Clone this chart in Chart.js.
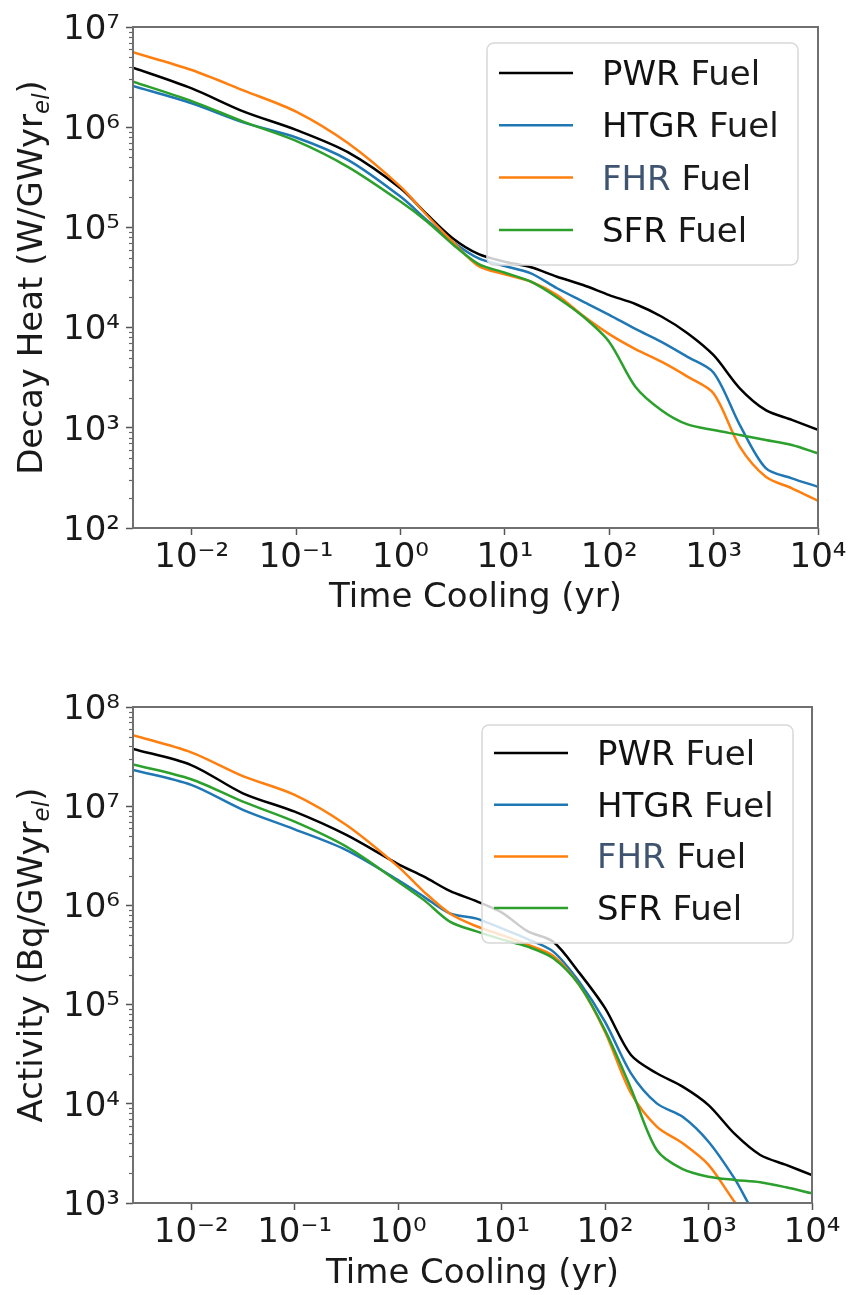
<!DOCTYPE html>
<html>
<head>
<meta charset="utf-8">
<title>Decay heat and activity of spent fuel</title>
<script src="https://cdn.jsdelivr.net/npm/chart.js"></script>
<style>
  html, body { margin: 0; padding: 0; background: #fff; }
  body { width: 851px; height: 1295px; position: relative; overflow: hidden; }
  canvas { position: absolute; left: 0; }
  #heatChart { top: 0; }
  #activityChart { top: 640px; }
</style>
</head>
<body>
<canvas id="heatChart" width="851" height="630"></canvas>
<canvas id="activityChart" width="851" height="655"></canvas>
<script>
// cooling times (yr), shared by both panels
var times = [0.00274, 0.01, 0.0316, 0.1, 0.316, 1, 1.78, 3.16, 5.62, 10, 17.8,
             31.6, 56.2, 100, 178, 316, 562, 1000, 1780, 3160, 5620, 10000];

// decay heat (W/GWyr_el)
var heatPWR  = [3.93e6, 2.44e6, 1.43e6, 9.4e5, 5.6e5, 2.46e5, 1.36e5, 7.8e4, 5.4e4, 4.55e4, 4.0e4,
                3.22e4, 2.66e4, 2.11e4, 1.72e4, 1.29e4, 8.8e3, 5.3e3, 2.48e3, 1.5e3, 1.2e3, 955];
var heatHTGR = [2.58e6, 1.73e6, 1.11e6, 7.9e5, 4.7e5, 2.03e5, 1.19e5, 7.2e4, 4.9e4, 4.12e4, 3.48e4,
                2.47e4, 1.82e4, 1.34e4, 9.7e3, 7.2e3, 5.1e3, 3.55e3, 1.07e3, 395, 313, 258];
var heatFHR  = [5.59e6, 3.72e6, 2.32e6, 1.43e6, 6.9e5, 2.55e5, 1.33e5, 7.2e4, 4.1e4, 3.4e4, 2.87e4,
                2.11e4, 1.31e4, 8.6e3, 6.1e3, 4.57e3, 3.24e3, 2.2e3, 650, 325, 249, 187];
var heatSFR  = [2.85e6, 1.82e6, 1.13e6, 7.3e5, 4.0e5, 1.81e5, 1.15e5, 6.8e4, 4.3e4, 3.53e4, 2.87e4,
                2.0e4, 1.29e4, 7.2e3, 2.57e3, 1.5e3, 1.08e3, 950, 848, 755, 673, 555];

// activity (Bq/GWyr_el)
var actPWR  = [3.78e7, 2.6e7, 1.35e7, 8.8e6, 5.13e6, 2.61e6, 1.95e6, 1.4e6, 1.11e6, 8.5e5, 5.5e5,
               4.3e5, 2.1e5, 9.2e4, 3.1e4, 2.03e4, 1.49e4, 9.7e3, 5.0e3, 3.05e3, 2.42e3, 1.91e3];
var actHTGR = [2.32e7, 1.64e7, 9.2e6, 5.85e6, 3.61e6, 1.8e6, 1.22e6, 8.3e5, 7.4e5, 5.87e5, 4.58e5,
               3.42e5, 1.7e5, 6.7e4, 2.03e4, 1.01e4, 7.4e3, 4.15e3, 1.77e3, 650, 450, 380];
var actFHR  = [5.2e7, 3.49e7, 2.01e7, 1.3e7, 6.45e6, 2.46e6, 1.37e6, 8.3e5, 6.2e5, 5.03e5, 4.02e5,
               3.09e5, 1.58e5, 5.3e4, 1.28e4, 5.9e3, 4.0e3, 2.42e3, 1.03e3, 480, 330, 270];
var actSFR  = [2.64e7, 1.87e7, 1.11e7, 6.98e6, 3.91e6, 1.73e6, 1.13e6, 6.86e5, 5.5e5, 4.55e5, 3.84e5,
               2.93e5, 1.58e5, 5.5e4, 1.43e4, 3.42e3, 2.19e3, 1.84e3, 1.71e3, 1.62e3, 1.44e3, 1.25e3];

var seriesNames = ['PWR', 'HTGR', 'FHR', 'SFR'];
var seriesColors = ['#000000', '#1f77b4', '#ff7f0e', '#2ca02c'];
var nameColors = ['#111111', '#111111', '#3f5471', '#111111'];

var xTicks = [0.01, 0.1, 1, 10, 100, 1000, 10000];
var xTickLabels = ['10⁻²', '10⁻¹', '10⁰', '10¹', '10²', '10³', '10⁴'];
var heatTicks = [1e2, 1e3, 1e4, 1e5, 1e6, 1e7];
var heatTickLabels = ['10²', '10³', '10⁴', '10⁵', '10⁶', '10⁷'];
var actTicks = [1e3, 1e4, 1e5, 1e6, 1e7, 1e8];
var actTickLabels = ['10³', '10⁴', '10⁵', '10⁶', '10⁷', '10⁸'];

var FONT = 'DejaVu Sans';
var TEXT = '#1a1a1a';

// frame, minor ticks, y title with subscript and the legend box
var fuelPlugin = {
  id: 'fuel',
  afterDatasetsDraw: function (chart) {
    var c = chart.ctx, a = chart.chartArea, ys = chart.scales.y;
    c.save();
    // minor ticks on the log y axis
    c.strokeStyle = '#666';
    c.lineWidth = 1.2;
    var e0 = Math.round(Math.log10(ys.min)), e1 = Math.round(Math.log10(ys.max));
    for (var e = e0; e < e1; e++) {
      for (var m = 2; m <= 9; m++) {
        var py = Math.round(ys.getPixelForValue(m * Math.pow(10, e))) + 0.5;
        c.beginPath();
        c.moveTo(a.left - 4, py);
        c.lineTo(a.left, py);
        c.stroke();
      }
    }
    // spines
    c.strokeStyle = '#707070';
    c.lineWidth = 2;
    c.strokeRect(a.left, a.top, a.right - a.left, a.bottom - a.top);
    c.restore();
  },
  afterDraw: function (chart, args, o) {
    var c = chart.ctx, a = chart.chartArea;
    c.save();

    // y axis title
    var big = '34px "' + FONT + '"', small = 'italic 23px "' + FONT + '"';
    c.translate(42, (a.top + a.bottom) / 2);
    c.rotate(-Math.PI / 2);
    c.fillStyle = TEXT;
    c.textAlign = 'left';
    c.textBaseline = 'alphabetic';
    c.font = big;
    var w1 = c.measureText(o.yTitle[0]).width, w3 = c.measureText(o.yTitle[2]).width;
    c.font = small;
    var w2 = c.measureText(o.yTitle[1]).width;
    var x0 = -(w1 + w2 + w3) / 2;
    c.font = big;
    c.fillText(o.yTitle[0], x0, 0);
    c.font = small;
    c.fillText(o.yTitle[1], x0 + w1, 7);
    c.font = big;
    c.fillText(o.yTitle[2], x0 + w1 + w2, 0);
    c.setTransform(1, 0, 0, 1, 0, 0);

    // legend
    var w = 311, h = o.legendH, r = 7;
    var left = a.right - o.legendRight - w, top = a.top + o.legendTop;
    c.beginPath();
    c.moveTo(left + r, top);
    c.lineTo(left + w - r, top);
    c.arcTo(left + w, top, left + w, top + r, r);
    c.lineTo(left + w, top + h - r);
    c.arcTo(left + w, top + h, left + w - r, top + h, r);
    c.lineTo(left + r, top + h);
    c.arcTo(left, top + h, left, top + h - r, r);
    c.lineTo(left, top + r);
    c.arcTo(left, top, left + r, top, r);
    c.closePath();
    c.fillStyle = 'rgba(255,255,255,0.8)';
    c.fill();
    c.strokeStyle = '#d8d8d8';
    c.lineWidth = 1.5;
    c.stroke();

    c.font = big;
    chart.data.datasets.forEach(function (ds, i) {
      var y = top + o.firstRow + i * o.rowGap;
      c.strokeStyle = ds.borderColor;
      c.lineWidth = 2.5;
      c.beginPath();
      c.moveTo(left + 12, y);
      c.lineTo(left + 86, y);
      c.stroke();
      c.fillStyle = nameColors[i];
      c.fillText(seriesNames[i], left + 115, y + 12);
      var wn = c.measureText(seriesNames[i]).width;
      c.fillStyle = TEXT;
      c.fillText(' Fuel', left + 115 + wn, y + 12);
    });
    c.restore();
  }
};

function buildChart(id, series, yTicks, yTickLabels, box) {
  var ctx = document.getElementById(id).getContext('2d');
  return new Chart(ctx, {
    type: 'line',
    data: {
      datasets: series.map(function (values, i) {
        return {
          label: seriesNames[i] + ' Fuel',
          data: times.map(function (t, j) { return { x: t, y: values[j] }; }),
          borderColor: seriesColors[i],
          borderWidth: 2.5,
          pointRadius: 0,
          tension: 0.3,
          fill: false,
          order: series.length - i
        };
      })
    },
    options: {
      responsive: false,
      animation: false,
      events: [],
      layout: { padding: box.padding },
      plugins: {
        legend: { display: false },
        tooltip: { enabled: false },
        fuel: box.plugin
      },
      scales: {
        x: {
          type: 'logarithmic',
          min: times[0],
          max: times[times.length - 1],
          afterBuildTicks: function (s) { s.ticks = xTicks.map(function (v) { return { value: v }; }); },
          afterFit: function (s) { s.height = box.xHeight; s.paddingLeft = 0; s.paddingRight = 0; },
          border: { display: false },
          grid: { drawOnChartArea: false, drawTicks: true, tickLength: 7, tickWidth: 1.5, tickColor: '#555' },
          ticks: {
            autoSkip: false, maxRotation: 0, minRotation: 0, padding: 3,
            color: TEXT, font: { family: FONT, size: 34 },
            callback: function (v, i) { return xTickLabels[i]; }
          },
          title: {
            display: true, text: 'Time Cooling (yr)', color: TEXT,
            font: { family: FONT, size: 34 }, padding: { top: 0, bottom: box.titlePad }
          }
        },
        y: {
          type: 'logarithmic',
          min: yTicks[0],
          max: yTicks[yTicks.length - 1],
          afterBuildTicks: function (s) { s.ticks = yTicks.map(function (v) { return { value: v }; }); },
          afterFit: function (s) { s.width = 133; s.paddingTop = 0; s.paddingBottom = 0; },
          border: { display: false },
          grid: { drawOnChartArea: false, drawTicks: true, tickLength: 7, tickWidth: 1.5, tickColor: '#555' },
          ticks: {
            autoSkip: false, padding: 6, labelOffset: 3,
            color: TEXT, font: { family: FONT, size: 34 },
            callback: function (v, i) { return yTickLabels[i]; }
          }
        }
      }
    },
    plugins: [fuelPlugin]
  });
}

buildChart('heatChart', [heatPWR, heatHTGR, heatFHR, heatSFR], heatTicks, heatTickLabels, {
  padding: { left: 0, top: 27, right: 33, bottom: 0 },
  xHeight: 102,
  titlePad: 11.6,
  plugin: { yTitle: ['Decay Heat (W/GWyr', 'el', ')'], legendH: 222, legendTop: 16, legendRight: 20, firstRow: 30, rowGap: 52.3 }
});

buildChart('activityChart', [actPWR, actHTGR, actFHR, actSFR], actTicks, actTickLabels, {
  padding: { left: 0, top: 67, right: 39, bottom: 0 },
  xHeight: 92,
  titlePad: 0.7,
  plugin: { yTitle: ['Activity (Bq/GWyr', 'el', ')'], legendH: 218, legendTop: 18, legendRight: 19, firstRow: 28, rowGap: 51.7 }
});
</script>
</body>
</html>
